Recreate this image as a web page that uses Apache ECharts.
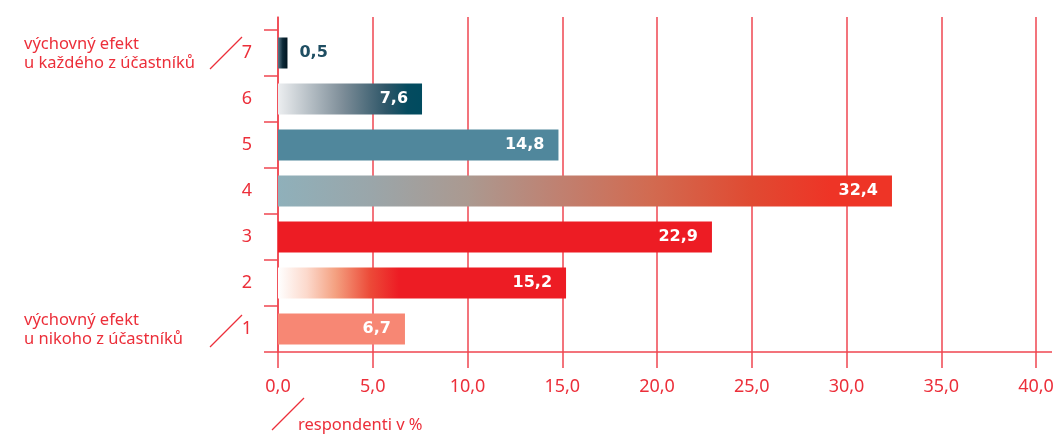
<!DOCTYPE html>
<html>
<head>
<meta charset="utf-8">
<script src="https://cdn.jsdelivr.net/npm/echarts@6/dist/echarts.min.js"></script>
<style>
  html, body { margin: 0; padding: 0; background: #fff; }
  #chart { width: 1059px; height: 434px; }
</style>
</head>
<body>
<div id="chart"></div>
<script>
// data
const categories = ["1", "2", "3", "4", "5", "6", "7"];
const values = [6.7, 15.2, 22.9, 32.4, 14.8, 7.6, 0.5];
const xTicks = [0, 5, 10, 15, 20, 25, 30, 35, 40];
const noteTop = ["výchovný efekt", "u každého z účastníků"];
const noteBottom = ["výchovný efekt", "u nikoho z účastníků"];
const unitLabel = "respondenti v %";

const RED = "#ec2f3a";
const LINE = "#ef4650";
const FONT = "'Noto Sans', 'Open Sans', sans-serif";
const BOLD_FONT = "'DejaVu Sans', 'Noto Sans', sans-serif";

function grad(stops) {
  return new echarts.graphic.LinearGradient(0, 0, 1, 0,
    stops.map(s => ({ offset: s[0], color: s[1] })));
}

// one fill per category (bottom to top)
const fills = [
  "#f78774",
  grad([[0, "#ffffff"], [0.1, "#fcd9cc"], [0.2, "#f4a080"], [0.32, "#ec4a38"], [0.42, "#ed1c24"], [1, "#ed1c24"]]),
  "#ed1c24",
  grad([[0, "#8fb0ba"], [0.15, "#9aa6aa"], [0.31, "#ab9990"], [0.46, "#c08070"], [0.61, "#d26a50"], [0.77, "#e04a32"], [0.9, "#ee3426"], [1, "#ee3426"]]),
  "#50879c",
  grad([[0, "#eceef0"], [0.45, "#7d8d98"], [0.75, "#2e5668"], [0.9, "#044b5f"], [1, "#014b5f"]]),
  grad([[0, "#5a7888"], [0.5, "#0c2a38"], [1, "#011520"]])
];

const fmt = v => v.toFixed(1).replace(".", ",");

const chart = echarts.init(document.getElementById("chart"));

const barData = values.map((v, i) => {
  const outside = v < 3;
  return {
    value: v,
    itemStyle: { color: fills[i] },
    label: {
      show: true,
      position: outside ? "right" : "insideRight",
      distance: outside ? 12 : 14,
      color: outside ? "#1f4e62" : "#ffffff",
      fontFamily: BOLD_FONT,
      fontWeight: "bold",
      fontSize: 16,
      formatter: p => fmt(p.value)
    }
  };
});

function noteText(lines, x, y) {
  return {
    type: "text",
    left: x,
    top: y,
    style: {
      text: lines.join("\n"),
      fill: RED,
      font: "16.5px " + FONT,
      lineHeight: 19
    }
  };
}

function slash(x1, y1, x2, y2) {
  return {
    type: "line",
    shape: { x1: x1, y1: y1, x2: x2, y2: y2 },
    style: { stroke: RED, lineWidth: 1.2 }
  };
}

chart.setOption({
  animation: false,
  backgroundColor: "#ffffff",
  grid: [
    { left: 278, right: 23, top: 30, bottom: 82 },
    { left: 278, right: 23, top: 17, bottom: 82 }
  ],
  xAxis: [
    { gridIndex: 0, type: "value", min: 0, max: 40, interval: 5, show: false },
    {
      gridIndex: 1, type: "value", min: 0, max: 40, interval: 5,
      axisLine: { show: true, lineStyle: { color: LINE, width: 1.5 } },
      axisTick: { show: true, length: 16, lineStyle: { color: LINE, width: 1.5 } },
      splitLine: { show: true, lineStyle: { color: LINE, width: 1.5 } },
      axisLabel: {
        color: RED, fontSize: 18, fontFamily: FONT, margin: 26,
        formatter: v => xTicks.includes(v) ? fmt(v) : ""
      }
    }
  ],
  yAxis: [
    {
      gridIndex: 0, type: "category", data: categories,
      axisLine: { show: false },
      axisTick: { show: true, length: 14, lineStyle: { color: LINE, width: 1.5 } },
      axisLabel: { color: RED, fontSize: 18, fontFamily: FONT, margin: 26 }
    },
    {
      gridIndex: 1, type: "value", min: 0, max: 1,
      axisLine: { show: true, lineStyle: { color: LINE, width: 1.5 } },
      axisTick: { show: false }, axisLabel: { show: false }, splitLine: { show: false }
    }
  ],
  series: [{
    type: "bar",
    xAxisIndex: 0,
    yAxisIndex: 0,
    barWidth: 31,
    data: barData
  }],
  graphic: [
    { type: "line", shape: { x1: 1036, y1: 352, x2: 1052, y2: 352 }, style: { stroke: LINE, lineWidth: 1.5 } },
    noteText(noteTop, 24, 35),
    noteText(noteBottom, 24, 311),
    slash(210, 69, 242, 37),
    slash(210, 347, 242, 315),
    slash(272, 430, 304, 398),
    { type: "text", left: 298, top: 417, style: { text: unitLabel, fill: RED, font: "16.5px " + FONT } }
  ]
});
</script>
</body>
</html>
